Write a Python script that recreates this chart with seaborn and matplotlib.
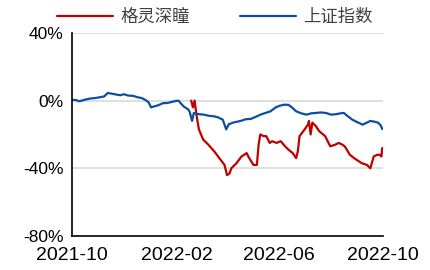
import pandas as pd
import matplotlib
matplotlib.use('Agg')
import matplotlib.pyplot as plt
import matplotlib.dates as mdates
import seaborn as sns

# 上证指数 区间涨跌幅 (%)
sh_dates = ['2021-10-01', '2021-10-06', '2021-10-10', '2021-10-16', '2021-10-22', '2021-10-28',
            '2021-11-03', '2021-11-08', '2021-11-12', '2021-11-18', '2021-11-23', '2021-11-27',
            '2021-12-01', '2021-12-06', '2021-12-12', '2021-12-17', '2021-12-22', '2021-12-26',
            '2021-12-30', '2022-01-02', '2022-01-05', '2022-01-10', '2022-01-16', '2022-01-21',
            '2022-01-26', '2022-01-31', '2022-02-03', '2022-02-09', '2022-02-14', '2022-02-16',
            '2022-02-19', '2022-02-21', '2022-02-27', '2022-03-05', '2022-03-11', '2022-03-17',
            '2022-03-22', '2022-03-27', '2022-03-31', '2022-04-03', '2022-04-08', '2022-04-17',
            '2022-04-23', '2022-04-29', '2022-05-05', '2022-05-10', '2022-05-16', '2022-05-22',
            '2022-05-28', '2022-06-02', '2022-06-07', '2022-06-12', '2022-06-16', '2022-06-21',
            '2022-06-27', '2022-07-03', '2022-07-09', '2022-07-14', '2022-07-20', '2022-07-26',
            '2022-08-01', '2022-08-07', '2022-08-12', '2022-08-16', '2022-08-20', '2022-08-26',
            '2022-09-01', '2022-09-07', '2022-09-12', '2022-09-16', '2022-09-21', '2022-09-25',
            '2022-09-28', '2022-09-30']
sh_values = [0.5, 0.3, -0.4, 0.5, 1.2, 1.5,
             2.0, 2.5, 4.5, 4.0, 3.5, 3.2,
             3.8, 3.0, 2.8, 2.0, 1.5, 0.5,
             -1.0, -4.0, -3.5, -2.8, -1.5, -1.4,
             -0.8, -0.2, 0.0, -3.4, -5.0, -6.3,
             -12.0, -7.3, -8.0, -8.3, -9.0, -9.3,
             -10.0, -11.3, -17.0, -14.0, -13.0, -12.0,
             -11.0, -10.8, -9.5, -8.3, -7.3, -6.3,
             -4.0, -3.0, -2.4, -2.5, -4.0, -6.3,
             -7.5, -8.3, -7.5, -7.3, -7.0, -7.3,
             -8.3, -8.0, -7.5, -7.3, -9.0, -11.3,
             -12.8, -14.2, -13.0, -12.0, -12.5, -13.0,
             -14.5, -16.8]

# 格灵深瞳 上市以来涨跌幅 (%)
gl_dates = ['2022-02-18', '2022-02-20', '2022-02-22', '2022-02-24', '2022-02-27', '2022-03-04',
            '2022-03-10', '2022-03-17', '2022-03-23', '2022-03-29', '2022-04-01', '2022-04-04',
            '2022-04-06', '2022-04-12', '2022-04-18', '2022-04-24', '2022-04-27', '2022-05-02',
            '2022-05-06', '2022-05-08', '2022-05-10', '2022-05-14', '2022-05-17', '2022-05-21',
            '2022-05-24', '2022-05-29', '2022-06-03', '2022-06-08', '2022-06-12', '2022-06-17',
            '2022-06-21', '2022-06-23', '2022-06-25', '2022-07-01', '2022-07-05', '2022-07-06',
            '2022-07-08', '2022-07-10', '2022-07-14', '2022-07-18', '2022-07-25', '2022-07-31',
            '2022-08-06', '2022-08-10', '2022-08-14', '2022-08-17', '2022-08-23', '2022-08-28',
            '2022-08-31', '2022-09-06', '2022-09-12', '2022-09-16', '2022-09-20', '2022-09-24',
            '2022-09-27', '2022-09-29', '2022-09-30']
gl_values = [0.0, -4.0, 0.0, -8.0, -17.0, -23.0,
             -26.0, -30.0, -34.0, -38.0, -44.0, -43.0,
             -40.0, -37.0, -33.0, -31.0, -34.0, -38.0,
             -38.0, -26.0, -20.0, -21.0, -21.0, -25.0,
             -24.0, -25.0, -24.0, -27.0, -29.0, -31.0,
             -34.0, -30.0, -21.0, -17.0, -14.0, -12.0,
             -20.0, -13.0, -15.0, -18.0, -21.0, -27.0,
             -26.0, -25.0, -26.0, -27.0, -32.0, -34.0,
             -35.0, -37.0, -38.0, -40.0, -33.0, -32.0,
             -32.0, -33.0, -28.0]

series_names = ['格灵深瞳', '上证指数']
colors = ['#C00000', '#0B4EA2']
y_ticks = [-80, -40, 0, 40]
x_ticks = ['2021-10-01', '2022-02-01', '2022-06-01', '2022-10-01']

df = pd.concat([
    pd.DataFrame({'date': pd.to_datetime(gl_dates), 'value': gl_values, 'name': series_names[0]}),
    pd.DataFrame({'date': pd.to_datetime(sh_dates), 'value': sh_values, 'name': series_names[1]}),
])

sns.set_style('white')
plt.rcParams['font.family'] = ['Liberation Sans', 'Noto Sans CJK SC', 'DejaVu Sans']
plt.rcParams['axes.unicode_minus'] = False

fig = plt.figure(figsize=(4.3, 2.7), dpi=100)
ax = fig.add_axes([0.167, 0.126, 0.724, 0.752])

sns.lineplot(data=df, x='date', y='value', hue='name', hue_order=series_names,
             palette=colors, linewidth=1.6, ax=ax)

ax.set_ylim(-80, 40)
ax.set_yticks(y_ticks)
ax.set_yticklabels([f'{v}%' for v in y_ticks])
ax.set_xlim(pd.Timestamp(x_ticks[0]), pd.Timestamp(x_ticks[-1]))
ax.set_xticks(pd.to_datetime(x_ticks))
ax.xaxis.set_major_formatter(mdates.DateFormatter('%Y-%m'))
ax.set_xlabel('')
ax.set_ylabel('')

# 浅灰色水平网格线
for v in [40, 0, -40]:
    ax.axhline(v, color='#D9D9D9', linewidth=1.2, zorder=0)

for s in ['top', 'right']:
    ax.spines[s].set_visible(False)
for s in ['left', 'bottom']:
    ax.spines[s].set_color('black')
    ax.spines[s].set_linewidth(1.2)
ax.tick_params(axis='both', direction='out', length=4, width=1.2, color='black',
               labelcolor='black')
ax.tick_params(axis='y', labelsize=12.5, pad=2)
ax.tick_params(axis='x', labelsize=14, pad=4)

ax.legend(loc='center', bbox_to_anchor=(0.46, 1.08), ncol=2, frameon=False,
          fontsize=12.5, handlelength=3.2, columnspacing=2.9, handletextpad=0.45,
          labelcolor='#404040', borderaxespad=0)

plt.savefig('out.png', dpi=100)
